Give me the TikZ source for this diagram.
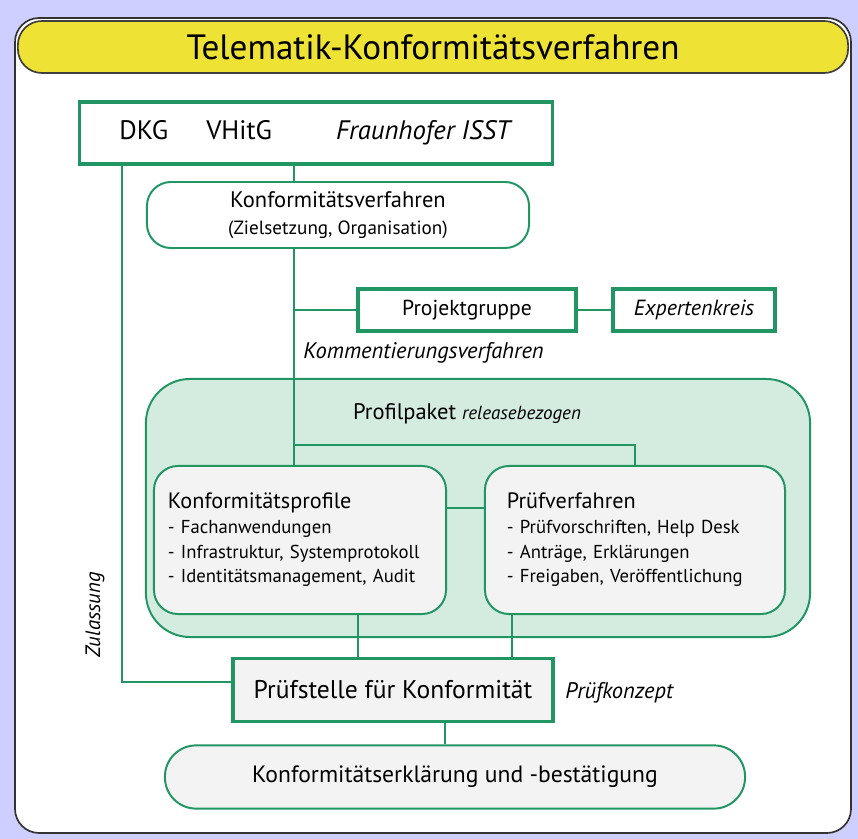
\documentclass[tikz,border=0pt]{standalone}
\usepackage{fontspec}
\setmainfont{PT Sans}
\usetikzlibrary{positioning,calc}
\definecolor{gruen}{RGB}{34,150,98}
\definecolor{gelb}{RGB}{238,226,52}
\definecolor{lila}{RGB}{206,206,255}
\definecolor{mint}{RGB}{212,235,224}
\definecolor{hellgrau}{RGB}{243,243,243}
\newcommand{\kopf}[1]{{\fontsize{15.8}{17}\selectfont #1}}
\tikzset{
    x=0.025cm, y=-0.025cm,
    link/.style={draw=gruen, line width=1.8pt},
    eckbox/.style={draw=gruen, line width=2.2pt, fill=white, inner sep=0pt},
    rundbox/.style={draw=gruen, line width=1.4pt, fill=white, rounded corners=0.6cm, inner sep=0pt},
    pille/.style={draw=gruen, line width=1.4pt, fill=hellgrau, rounded corners=0.78cm, inner sep=0pt},
    liste/.style={rundbox, fill=hellgrau, align=left, text width=6.6cm, inner xsep=0.35cm, font=\fontsize{13.3}{17.5}\selectfont},
    kursiv/.style={font=\fontsize{16}{18}\selectfont\itshape, inner sep=0pt}
}
\begin{document}
\begin{tikzpicture}
    \fill[lila] (0,0) rectangle (858,839);
    \useasboundingbox (0,0) rectangle (858,839);
    % Rahmen und Titel
    \filldraw[fill=white, draw=black!80, line width=1.2pt, rounded corners=0.6cm] (15,18) rectangle (851,833);
    \node[draw=black!75, fill=gelb, line width=1.2pt, rounded corners=0.6cm, minimum width=20.75cm, minimum height=1.3cm,
          font=\fontsize{25}{27}\selectfont] (titel) at (433,47) {Telematik-Konformitätsverfahren};

    \node[eckbox, minimum width=11.8cm, minimum height=1.55cm, font=\fontsize{19}{21}\selectfont] (traeger) at (316,133)
        {DKG\hspace{0.95cm}VHitG\hspace{1.6cm}\textit{Fraunhofer ISST}};
     \node[rundbox, minimum width=9.55cm, minimum height=1.65cm, align=center, font=\fontsize{16}{19}\selectfont] (kv) at (338,215)
        {Konformitätsverfahren\\{\fontsize{13.6}{16}\selectfont(Zielsetzung, Organisation)}};
       \node[eckbox, minimum width=5.45cm, minimum height=1.05cm, font=\fontsize{15.4}{17}\selectfont] (pg) at (467,310) {Projektgruppe};
       \node[eckbox, minimum width=4.05cm, minimum height=1.05cm, font=\fontsize{15.6}{17}\selectfont\itshape] (ek) at (694,310) {Expertenkreis};
      \node[kursiv, anchor=west] (komm) at (303,353) {Kommentierungsverfahren};

    % Profilpaket
     \node[draw=gruen, line width=1.4pt, fill=mint, rounded corners=1.1cm, minimum width=16.6cm, minimum height=6.45cm] (paket) at (478,508) {};
      \node[font=\fontsize{16}{18}\selectfont] (ptitel) at (467,414) {Profilpaket {\fontsize{13.5}{15}\selectfont\itshape releasebezogen}};
       \node[liste, minimum width=7.3cm, minimum height=3.7cm] (kprof) at (300,540)
        {\kopf{Konformitätsprofile}\\
         - Fachanwendungen\\ - Infrastruktur, Systemprotokoll\\ - Identitätsmanagement, Audit};
       \node[liste, minimum width=7.5cm, minimum height=3.7cm, text width=6.4cm, inner xsep=0.55cm] (pv) at (635,540)
        {\kopf{Prüfverfahren}\\
         - Prüfvorschriften, Help Desk\\ - Anträge, Erklärungen\\ - Freigaben, Veröffentlichung};

    % unten
     \node[eckbox, fill=hellgrau, minimum width=8.0cm, minimum height=1.58cm, font=\fontsize{18.2}{20}\selectfont] (ps) at (393,690) {Prüfstelle für Konformität};
      \node[kursiv, anchor=west] (pk) at (565,693) {Prüfkonzept};
     \node[pille, minimum width=14.5cm, minimum height=1.58cm, font=\fontsize{16.8}{19}\selectfont] (ke) at (455,777) {Konformitätserklärung und -bestätigung};
      \node[kursiv, font=\fontsize{14.8}{17}\selectfont\itshape, rotate=90] (zul) at (95,615) {Zulassung};

    % Verbindungen
    \coordinate (achse) at (294,445);
    \coordinate (dkg) at (122,0);
    \coordinate (links) at (358,0);
    \coordinate (rechts) at (512,0);
    \coordinate (mitte) at (445,0);
     \path[link] (traeger.south -| achse) edge (kv.north -| achse);
     \path[link] (kv.south -| achse) edge (kprof.north -| achse);
     \path[link] (achse |- pg.west) edge (pg.west);
     \path[link] (pg.east) edge (ek.west);
     \draw[link] (achse) -| (pv.north);
     \path[link] (kprof.east |- 0,508) edge (pv.west |- 0,508);
     \path[link] (kprof.south -| links) edge (ps.north -| links);
     \path[link] (pv.south -| rechts) edge (ps.north -| rechts);
     \draw[link] (traeger.south -| dkg) |- (ps.west |- 0,682);
     \path[link] (ps.south -| mitte) edge (ke.north -| mitte);
\end{tikzpicture}
\end{document}
